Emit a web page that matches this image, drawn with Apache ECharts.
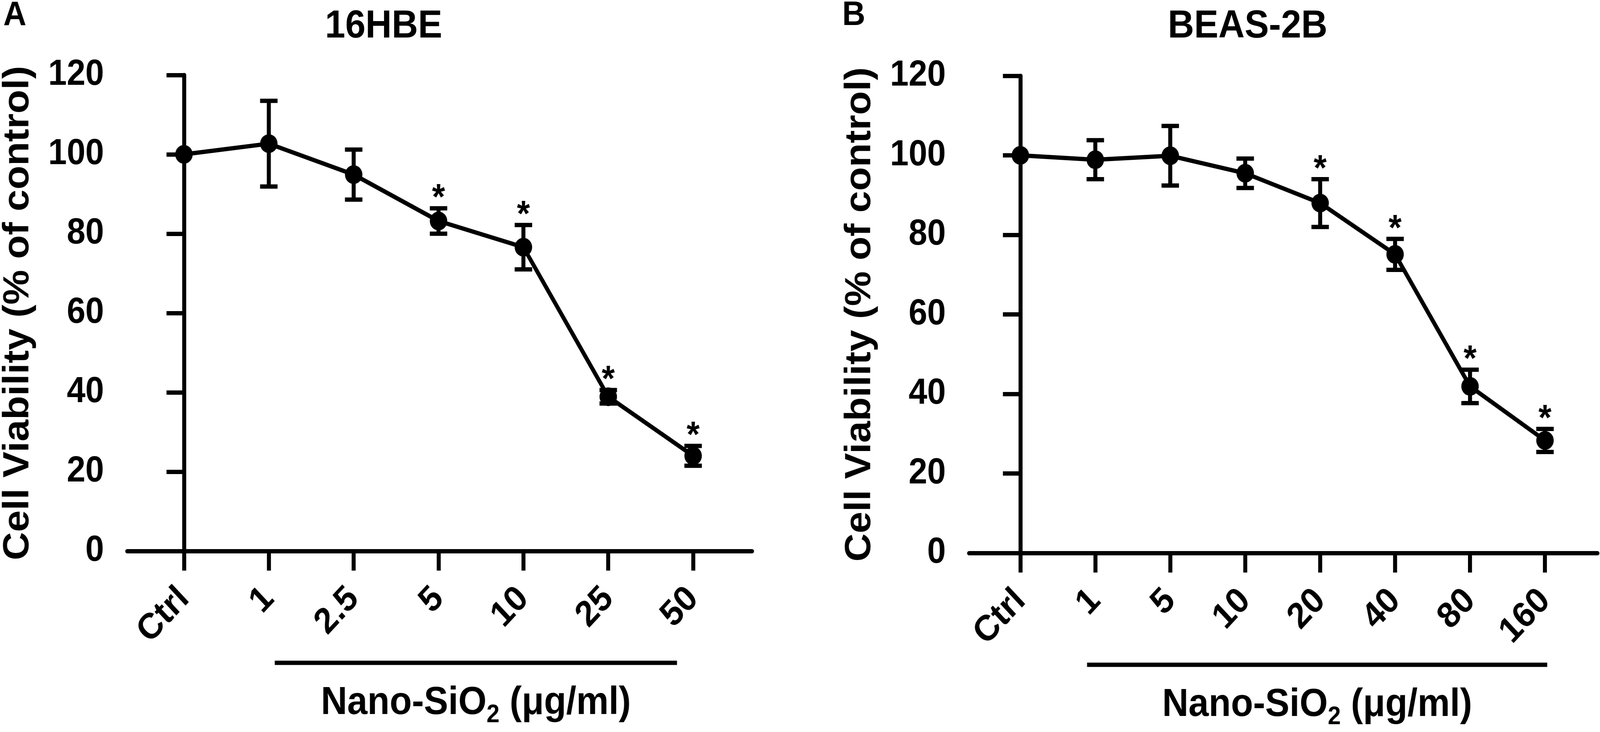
<!DOCTYPE html>
<html>
<head>
<meta charset="utf-8">
<script src="https://cdn.jsdelivr.net/npm/echarts@6/dist/echarts.min.js"></script>
<style>
  html, body { margin: 0; padding: 0; background: #fff; overflow: hidden; }
  #chart { width: 4400px; height: 1873px; transform-origin: 0 0; }
</style>
</head>
<body>
<div id="chart"></div>
<script>
// ---------- data ----------
const catsA = ['Ctrl', '1', '2.5', '5', '10', '25', '50'];
const meanA = [100, 102.7, 94.9, 83.2, 76.6, 38.9, 24.0];
const sdA   = [0, 10.8, 6.3, 3.2, 5.6, 1.7, 2.5];
const sigA  = [0, 0, 0, 1, 1, 1, 1];

const catsB = ['Ctrl', '1', '5', '10', '20', '40', '80', '160'];
const meanB = [100, 98.9, 99.9, 95.5, 88.0, 75.1, 41.9, 28.3];
const sdB   = [0, 4.9, 7.5, 3.7, 6.0, 3.9, 4.2, 2.9];
const sigB  = [0, 0, 0, 0, 1, 1, 1, 1];

const yTicks = [0, 20, 40, 60, 80, 100, 120];
const titleA = '16HBE';
const titleB = 'BEAS-2B';
const yName = 'Cell Viability (% of control)';
// treated-group bracket spans (in category units)
const bracketA = [1.07, 5.81];
const bracketB = [0.89, 7.03];

// ---------- style ----------
const FONT = '"Liberation Sans", Arial, Helvetica, sans-serif';
const LW = 11;
const BLACK = '#000';
const DESIGN_W = 4400, DESIGN_H = 1873;

// fit the 4400-wide design into the actual viewport
const el = document.getElementById('chart');
const sx = window.innerWidth / DESIGN_W, sy = window.innerHeight / DESIGN_H;
el.style.transform = 'scale(' + sx + ',' + sy + ')';

const chart = echarts.init(el, null, { renderer: 'canvas', width: DESIGN_W, height: DESIGN_H });

function xAxisFor(cats, gridIndex, min, max) {
  const idx = cats.map((_, i) => i);
  return {
    type: 'value', gridIndex, min, max,
    splitLine: { show: false },
    axisLine: { show: true, onZero: false, lineStyle: { color: BLACK, width: LW } },
    axisTick: { show: true, customValues: idx, length: 50, lineStyle: { color: BLACK, width: LW } },
    axisLabel: {
      show: true, customValues: idx, rotate: 45, margin: 108,
      formatter: v => cats[Math.round(v)],
      color: BLACK, fontFamily: FONT, fontWeight: 'bold', fontSize: 92
    }
  };
}
function yAxisFor(gridIndex) {
  return {
    type: 'value', gridIndex, min: yTicks[0], max: yTicks[yTicks.length - 1], interval: 20,
    splitLine: { show: false },
    axisLine: { show: true, lineStyle: { color: BLACK, width: LW } },
    axisTick: { show: true, length: 48, lineStyle: { color: BLACK, width: LW } },
    axisLabel: { margin: 64, color: BLACK, fontFamily: FONT, fontWeight: 'bold', fontSize: 92 },
    name: yName, nameLocation: 'middle', nameGap: 250,
    nameTextStyle: { color: BLACK, fontFamily: FONT, fontWeight: 'bold', fontSize: 100 }
  };
}

function errRender(params, api) {
  const x = api.value(0), m = api.value(1), sd = api.value(2), sig = api.value(3);
  const top = api.coord([x, m + sd]);
  const bot = api.coord([x, m - sd]);
  const children = [];
  const st = { stroke: BLACK, lineWidth: LW, fill: null };
  if (sd > 0) {
    children.push({ type: 'line', shape: { x1: top[0], y1: top[1], x2: bot[0], y2: bot[1] }, style: st });
    children.push({ type: 'line', shape: { x1: top[0] - 24, y1: top[1], x2: top[0] + 24, y2: top[1] }, style: st });
    children.push({ type: 'line', shape: { x1: bot[0] - 24, y1: bot[1], x2: bot[0] + 24, y2: bot[1] }, style: st });
  }
  if (sig) {
    children.push({
      type: 'text',
      style: { text: '*', x: top[0], y: top[1] - 23, textAlign: 'center', textVerticalAlign: 'middle',
               font: 'bold 92px ' + FONT, fill: BLACK }
    });
  }
  return { type: 'group', children };
}

function bracketRender(params, api) {
  const p1 = api.coord([api.value(0), 0]);
  const p2 = api.coord([api.value(1), 0]);
  const yb = p1[1] + 286;
  const cx = (p1[0] + p2[0]) / 2;
  return {
    type: 'group',
    children: [
      { type: 'line', shape: { x1: p1[0], y1: yb, x2: p2[0], y2: yb },
        style: { stroke: BLACK, lineWidth: LW } },
      { type: 'text',
        style: {
          text: 'Nano-SiO{sub|2} (μg/ml)', x: cx, y: p1[1] + 389,
          textAlign: 'center', textVerticalAlign: 'middle',
          font: 'bold 100px ' + FONT, fill: BLACK,
          rich: { sub: { fontSize: 64, fontWeight: 'bold', fontFamily: FONT, fill: BLACK, padding: [62, 0, 0, 0] } }
        } }
    ]
  };
}

function panelSeries(mean, sd, sig, bracket, idx) {
  return [
    { type: 'custom', xAxisIndex: idx, yAxisIndex: idx, renderItem: errRender, clip: false, z: 2,
      encode: { x: 0, y: 1 }, data: mean.map((m, i) => [i, m, sd[i], sig[i]]) },
    { type: 'line', xAxisIndex: idx, yAxisIndex: idx, z: 3,
      symbol: 'circle', symbolSize: 48, showSymbol: true,
      lineStyle: { color: BLACK, width: LW }, itemStyle: { color: BLACK },
      emphasis: { disabled: true }, data: mean.map((m, i) => [i, m]) },
    { type: 'custom', xAxisIndex: idx, yAxisIndex: idx, renderItem: bracketRender, clip: false, z: 2,
      encode: { x: [0, 1], y: 2 }, data: [[bracket[0], bracket[1], 0]] }
  ];
}

const titleStyle = (size) => ({ color: BLACK, fontFamily: FONT, fontWeight: 'bold', fontSize: size });

chart.setOption({
  animation: false,
  backgroundColor: '#fff',
  title: [
    { text: 'A', left: 9, top: -4, padding: 0, textStyle: titleStyle(88) },
    { text: 'B', left: 2316, top: -4, padding: 0, textStyle: titleStyle(88) },
    { text: titleA, left: 1055, top: 18, padding: 0, textAlign: 'center', textStyle: titleStyle(100) },
    { text: titleB, left: 3431, top: 18, padding: 0, textAlign: 'center', textStyle: titleStyle(100) }
  ],
  grid: [
    { left: 350, top: 192, width: 1718, height: 1218, containLabel: false, outerBoundsMode: 'none' },
    { left: 2665, top: 194, width: 1728, height: 1221, containLabel: false, outerBoundsMode: 'none' }
  ],
  xAxis: [ xAxisFor(catsA, 0, -0.668, 6.694), xAxisFor(catsB, 1, -0.684, 7.70) ],
  yAxis: [yAxisFor(0), yAxisFor(1)],
  series: [ ...panelSeries(meanA, sdA, sigA, bracketA, 0), ...panelSeries(meanB, sdB, sigB, bracketB, 1) ]
});
</script>
</body>
</html>
